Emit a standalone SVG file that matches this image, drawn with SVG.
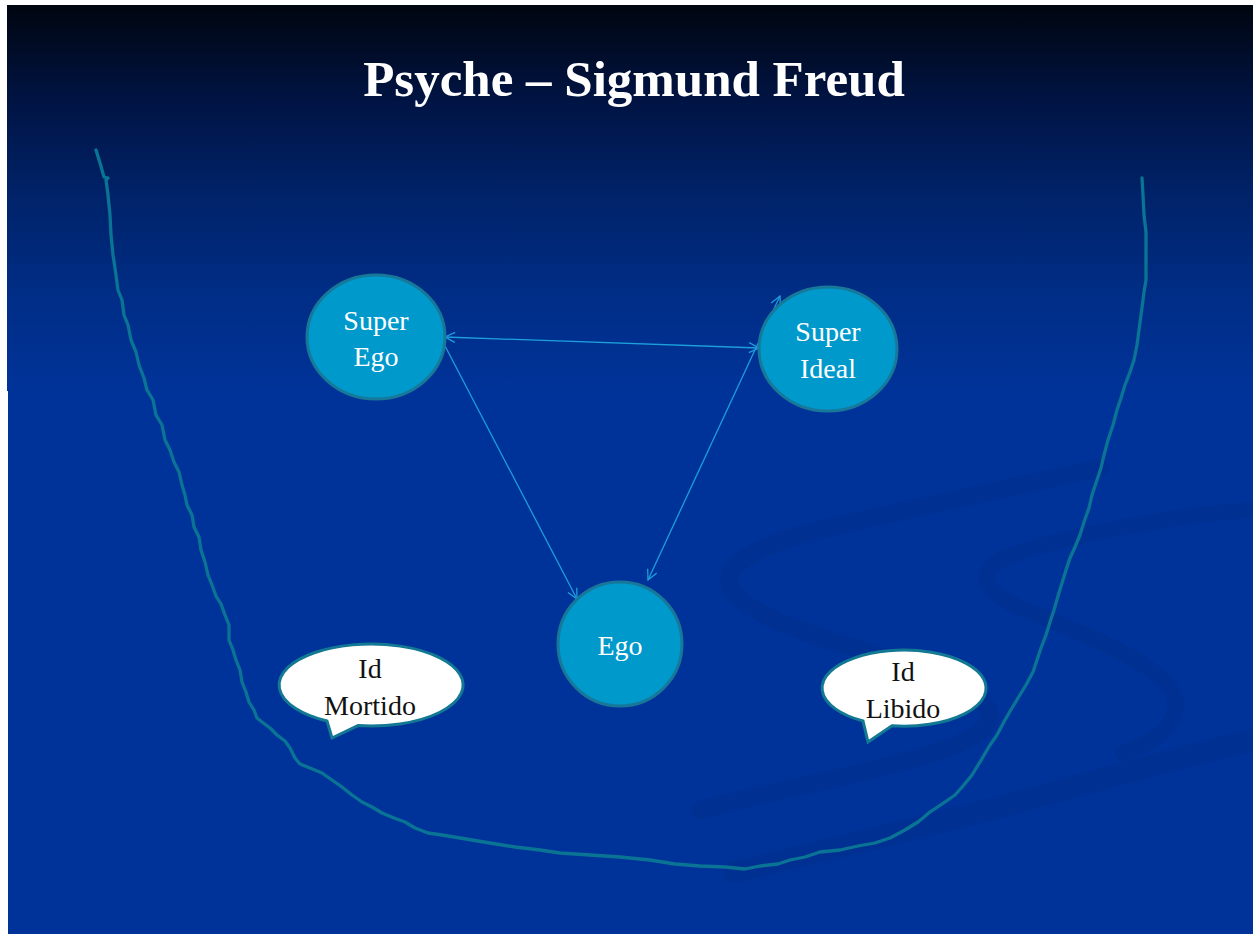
<svg xmlns="http://www.w3.org/2000/svg" width="1253" height="934" viewBox="0 0 1253 934">
<defs>
<linearGradient id="sky" x1="0" y1="0" x2="0" y2="1">
<stop offset="0" stop-color="#00050f"/>
<stop offset="0.25" stop-color="#001444"/>
<stop offset="0.5" stop-color="#00236a"/>
<stop offset="0.75" stop-color="#002d86"/>
<stop offset="1" stop-color="#003399"/>
</linearGradient>
<marker id="arr" viewBox="0 0 12 12" refX="11" refY="6" markerWidth="12" markerHeight="12" markerUnits="userSpaceOnUse" orient="auto-start-reverse">
<path d="M1,1 L11,6 L1,11" fill="none" stroke="#1d9fdc" stroke-width="1.3"/>
</marker>
</defs>
<style>
.node{fill:#0099cc;stroke:#17789a;stroke-width:3}
.bubble{fill:#ffffff;stroke:#127893;stroke-width:3;stroke-linejoin:miter}
.nt{font-family:"Liberation Serif",serif;font-size:28px;fill:#ffffff;text-anchor:middle}
.bt{font-family:"Liberation Serif",serif;font-size:28px;fill:#111111;text-anchor:middle}
.conn{fill:none;stroke:#1d9fdc;stroke-width:1.3}
.swirl{fill:none;stroke:#002e8c;stroke-linecap:round;stroke-opacity:0.5}
</style>
<rect x="0" y="0" width="1253" height="934" fill="#ffffff"/>
<rect x="7" y="5" width="1246" height="386" fill="url(#sky)"/>
<rect x="8" y="390" width="1245" height="544" fill="#003399"/>
<g id="swirls">
<path class="swirl" stroke-width="18" d="M1100,468 C1000,490 880,515 806,533 C750,550 725,565 730,585 C738,610 800,632 860,650 C930,668 990,690 990,718 C985,742 920,760 806,785 C760,795 720,805 700,810"/>
<path class="swirl" stroke-width="16" d="M1253,510 C1180,515 1060,535 1000,560 C975,575 985,595 1030,612 C1100,640 1175,670 1176,705 C1174,730 1150,745 1123,753"/>
<path class="swirl" stroke-width="22" d="M1253,740 C1180,757 1100,780 1000,807 C900,832 820,852 735,872"/>
</g>
<text x="634" y="96" font-family="Liberation Serif, serif" font-size="51" font-weight="bold" fill="#ffffff" text-anchor="middle">Psyche – Sigmund Freud</text>
<g id="boundary">
<path fill="none" stroke="#0a7494" stroke-width="3.3" stroke-linejoin="round" stroke-linecap="round" d="M96,150 L100,163 L104,177 L108,178 L106,180 L108,195 L110,215 L111,235 L113,255 L116,275 L118,290 L122,300 L124,315 L128,325 L131,340 L136,352 L139,365 L144,378 L147,390 L153,400 L156,415 L162,425 L165,440 L170,450 L174,462 L179,472 L182,485 L185,495 L187,505 L192,515 L194,527 L199,537 L201,550 L205,562 L208,575 L212,585 L216,596 L221,604 L225,615 L229,625 L229,640 L233,650 L236,660 L240,670 L242,682 L246,692 L249,702 L254,710 L257,718 L262,722 L270,728 L277,735 L285,741 L290,748 L295,758 L300,764 L310,768 L322,773 L332,780 L342,787 L352,795 L362,802 L372,807 L382,813 L394,818 L405,822 L415,828 L428,833 L442,835 L460,838 L478,841 L496,844 L515,847 L540,850 L560,853 L590,855 L620,857 L650,860 L675,864 L700,866 L725,867 L745,869 L760,866 L778,864 L790,860 L805,857 L820,852 L840,850 L858,846 L875,843 L890,838 L905,830 L918,822 L930,812 L942,804 L955,795 L963,786 L972,775 L980,762 L990,745 L997,735 L1005,720 L1012,708 L1018,698 L1026,685 L1033,672 L1037,660 L1041,648 L1046,635 L1050,622 L1054,610 L1058,596 L1062,583 L1066,570 L1070,558 L1075,547 L1080,535 L1084,522 L1089,508 L1092,495 L1097,480 L1101,468 L1104,455 L1108,440 L1113,425 L1117,410 L1121,398 L1125,385 L1130,372 L1134,360 L1137,345 L1139,330 L1141,315 L1143,300 L1144,292 L1146,280 L1146,265 L1146,250 L1146,232 L1144,215 L1143,195 L1142,178"/>
</g>
<g id="connectors">
<line class="conn" x1="445" y1="337" x2="759" y2="348" marker-start="url(#arr)" marker-end="url(#arr)"/>
<line class="conn" x1="444" y1="344" x2="577" y2="599" marker-end="url(#arr)"/>
<line class="conn" x1="648" y1="580" x2="780" y2="296" marker-start="url(#arr)" marker-end="url(#arr)"/>
</g>
<g id="super-ego">
<ellipse class="node" cx="376" cy="337" rx="69" ry="62"/>
<text class="nt" x="376" y="330">Super</text>
<text class="nt" x="376" y="366">Ego</text>
</g>
<g id="super-ideal">
<ellipse class="node" cx="828" cy="349" rx="69" ry="62"/>
<text class="nt" x="828" y="341">Super</text>
<text class="nt" x="828" y="378">Ideal</text>
</g>
<g id="ego">
<ellipse class="node" cx="620" cy="644" rx="62" ry="62"/>
<text class="nt" x="620" y="655">Ego</text>
</g>
<g id="id-mortido">
<path class="bubble" d="M358,725.6 A92,41 0 1 0 327,721 L332,738 Z"/>
<text class="bt" x="370" y="678">Id</text>
<text class="bt" x="370" y="715">Mortido</text>
</g>
<g id="id-libido">
<path class="bubble" d="M892,725.7 A82,38 0 1 0 863,721 L868,742 Z"/>
<text class="bt" x="903" y="681">Id</text>
<text class="bt" x="903" y="718">Libido</text>
</g>
</svg>
